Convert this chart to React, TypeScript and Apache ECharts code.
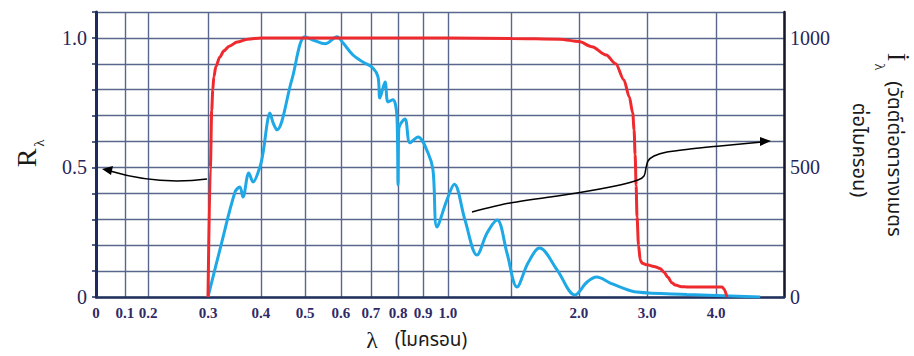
import React, { useEffect, useRef } from "react";
import * as echarts from "echarts";

// Vertical grid lines: wavelength (µm) and where each sits along the axis (0 = left, 1 = right).
// The wavelength scale is stretched in the visible band and compressed in the infrared.
const gridWavelengths = [0, 0.1, 0.2, 0.3, 0.4, 0.5, 0.6, 0.7, 0.8, 0.9, 1.0, 1.5, 2.0, 3.0, 4.0, 5.0];
const gridAxisFractions = [0, 0.042, 0.0756, 0.1628, 0.2398, 0.3038, 0.3561, 0.3997, 0.439, 0.4753, 0.5116, 0.6032, 0.702, 0.8009, 0.9012, 1];
const labelledWavelengths = [0, 0.1, 0.2, 0.3, 0.4, 0.5, 0.6, 0.7, 0.8, 0.9, 1.0, 2.0, 3.0, 4.0];

// Spectral reflectance R(λ) of the surface
const reflWavelength = [
  0.3, 0.3045, 0.307, 0.309, 0.311, 0.315, 0.322, 0.33, 0.34, 0.355, 0.375, 0.4,
  1.0, 1.5, 1.86, 2.0, 2.19, 2.4, 2.54, 2.66, 2.74, 2.79, 2.81, 2.825, 2.84, 2.853,
  2.875, 2.9, 2.93, 3.0, 3.1, 3.19, 3.25, 3.3, 3.36, 3.41, 3.5, 3.58, 4.09, 4.12, 4.16,
];
const reflValue = [
  0, 0.5, 0.72, 0.8, 0.85, 0.89, 0.925, 0.95, 0.968, 0.984, 0.995, 1.0,
  1.0, 0.998, 0.995, 0.986, 0.966, 0.934, 0.9, 0.838, 0.772, 0.71, 0.645, 0.55, 0.43, 0.31,
  0.2, 0.143, 0.13, 0.124, 0.118, 0.11, 0.095, 0.077, 0.055, 0.046, 0.04, 0.039, 0.039, 0.03, 0,
];

// Solar spectral irradiance i(λ), W/m² per µm
const solarWavelength = [
  0.3, 0.325, 0.351, 0.36, 0.366, 0.377, 0.385, 0.398, 0.405, 0.415, 0.42, 0.428, 0.436, 0.47, 0.5,
  0.522, 0.556, 0.589, 0.607, 0.64, 0.673, 0.707, 0.726, 0.733, 0.752, 0.763, 0.781, 0.796, 0.8, 0.803,
  0.828, 0.848, 0.88, 0.92, 0.94, 0.956, 0.996, 1.05, 1.135, 1.23, 1.31, 1.39, 1.468, 1.544, 1.625,
  1.71, 1.84, 1.97, 2.12, 2.26, 2.46, 2.6, 2.85, 3.58, 4.65,
];
const solarValue = [
  0, 203, 405, 425, 386, 479, 444, 502, 560, 680, 710, 670, 645, 838, 1004,
  992, 977, 1004, 980, 934, 907, 884, 849, 768, 830, 753, 761, 695, 432, 650,
  687, 595, 618, 556, 490, 270, 375, 435, 297, 162, 247, 297, 170, 39, 131,
  189, 104, 8, 58, 77, 54, 39, 19, 10, 0,
];

// Map a wavelength onto the stretched axis
function toAxis(w: number): number {
  for (let i = 0; i < gridWavelengths.length - 1; i++) {
    const a = gridWavelengths[i];
    const b = gridWavelengths[i + 1];
    if (w >= a && w <= b) {
      const t = (w - a) / (b - a);
      return gridAxisFractions[i] + t * (gridAxisFractions[i + 1] - gridAxisFractions[i]);
    }
  }
  return 1;
}

function xLabel(v: number): string {
  const k = gridAxisFractions.findIndex((f) => Math.abs(f - v) < 1e-6);
  if (k < 0) return "";
  const w = gridWavelengths[k];
  if (!labelledWavelengths.includes(w)) return "";
  return w === 0 ? "0" : w.toFixed(1);
}

const gridColor = "#5a678c";
const serif = "'Liberation Serif', 'DejaVu Serif', serif";
const thai = "'Noto Sans Thai', 'Noto Serif Thai', Loma, Garuda, 'Noto Sans', 'DejaVu Sans', sans-serif";

export default function App() {
  const ref = useRef<HTMLDivElement>(null);

  useEffect(() => {
    document.body.style.margin = "0";
    const chart = echarts.init(ref.current!, undefined, { renderer: "svg" });

    const reflData = reflWavelength.map((w, i) => [toAxis(w), reflValue[i]]);
    const solarData = solarWavelength.map((w, i) => [toAxis(w), solarValue[i]]);

    chart.setOption({
      animation: false,
      backgroundColor: "#ffffff",
      grid: { left: 96, right: 130, top: 12, bottom: 59 },
      xAxis: {
        type: "value",
        min: 0,
        max: 1,
        axisLine: { show: true, onZero: false, lineStyle: { color: "#22305e", width: 2.5 } },
        axisTick: { show: false, customValues: gridAxisFractions },
        axisLabel: {
          customValues: gridAxisFractions,
          formatter: xLabel,
          color: "#2f2a66",
          fontFamily: serif,
          fontSize: 15,
          fontWeight: "bold",
          margin: 8,
        },
        splitLine: { show: true, lineStyle: { color: gridColor, width: 1.4 } },
      },
      yAxis: [
        {
          type: "value",
          position: "left",
          min: 0,
          max: 1.1,
          interval: 0.1,
          axisLine: { show: true, lineStyle: { color: "#1c2b5e", width: 3 } },
          axisTick: { show: true, length: 4, lineStyle: { color: "#1c2b5e", width: 1.5 } },
          axisLabel: {
            formatter: (v: number) =>
              Math.abs(v - 1) < 1e-6 ? "1.0" : Math.abs(v - 0.5) < 1e-6 ? "0.5" : Math.abs(v) < 1e-6 ? "0" : "",
            color: "#26265a",
            fontFamily: serif,
            fontSize: 20,
            margin: 9,
          },
          splitLine: { show: true, lineStyle: { color: gridColor, width: 1.4 } },
        },
        {
          type: "value",
          position: "right",
          min: 0,
          max: 1100,
          interval: 100,
          axisLine: { show: true, lineStyle: { color: "#17172c", width: 2.5 } },
          axisTick: { show: false },
          axisLabel: {
            formatter: (v: number) => (v === 0 || v === 500 || v === 1000 ? String(v) : ""),
            color: "#26265a",
            fontFamily: serif,
            fontSize: 20,
            margin: 6,
          },
          splitLine: { show: false },
        },
      ],
      series: [
        {
          name: "i",
          type: "line",
          yAxisIndex: 1,
          data: solarData,
          showSymbol: false,
          smooth: 0.35,
          lineStyle: { color: "#1ea8e6", width: 3 },
          z: 3,
        },
        {
          name: "R",
          type: "line",
          yAxisIndex: 0,
          data: reflData,
          showSymbol: false,
          smooth: 0.3,
          smoothMonotone: "x",
          lineStyle: { color: "#ee2a2e", width: 3 },
          z: 4,
        },
      ],
      graphic: [
        // left axis title R_λ
        {
          type: "text", x: 26, y: 158, rotation: Math.PI / 2,
          style: { text: "R", fontFamily: serif, fontSize: 28, fill: "#1a1a1a", align: "center", verticalAlign: "middle" },
        },
        {
          type: "text", x: 39, y: 143, rotation: Math.PI / 2,
          style: { text: "λ", fontFamily: serif, fontSize: 15, fill: "#1a1a1a", align: "center", verticalAlign: "middle" },
        },
        // bottom title
        {
          type: "text", x: 372, y: 340,
          style: { text: "λ", fontFamily: serif, fontSize: 24, fill: "#1a1a1a", align: "center", verticalAlign: "middle" },
        },
        {
          type: "text", x: 431, y: 340,
          style: { text: "(ไมครอน)", fontFamily: thai, fontSize: 19, fill: "#1a1a1a", align: "center", verticalAlign: "middle" },
        },
        // right axis title
        {
          type: "text", x: 896, y: 57, rotation: -Math.PI / 2,
          style: { text: "İ", fontFamily: serif, fontSize: 26, fill: "#1a1a1a", align: "center", verticalAlign: "middle" },
        },
        {
          type: "text", x: 879, y: 67, rotation: -Math.PI / 2,
          style: { text: "λ", fontFamily: serif, fontSize: 14, fill: "#1a1a1a", align: "center", verticalAlign: "middle" },
        },
        {
          type: "text", x: 894, y: 159, rotation: -Math.PI / 2,
          style: { text: "(วัตต์ต่อตารางเมตร", fontFamily: thai, fontSize: 20, fill: "#1a1a1a", align: "center", verticalAlign: "middle" },
        },
        {
          type: "text", x: 859, y: 150, rotation: -Math.PI / 2,
          style: { text: "ต่อไมครอน)", fontFamily: thai, fontSize: 20, fill: "#1a1a1a", align: "center", verticalAlign: "middle" },
        },
        // arrow from the reflectance curve to the left axis
        {
          type: "bezierCurve",
          shape: { x1: 207, y1: 179, cpx1: 175, cpy1: 183, cpx2: 140, cpy2: 180, x2: 110, y2: 171 },
          style: { stroke: "#000", lineWidth: 1.5, fill: null },
          z: 10,
        },
        {
          type: "polygon",
          shape: { points: [[102, 169], [113, 166], [111, 175]] },
          style: { fill: "#000" },
          z: 10,
        },
        // arrow from the irradiance curve to the right axis
        {
          type: "polyline",
          shape: {
            points: [[472, 212], [510, 203], [577, 193], [620, 185], [638, 180], [644, 176], [646, 168], [648, 161], [654, 156], [667, 152], [690, 149], [720, 146], [762, 142]],
            smooth: 0.3,
          },
          style: { stroke: "#000", lineWidth: 1.5, fill: null },
          z: 10,
        },
        {
          type: "polygon",
          shape: { points: [[771, 141], [760, 137], [760, 146]] },
          style: { fill: "#000" },
          z: 10,
        },
      ],
    });

    return () => chart.dispose();
  }, []);

  return <div ref={ref} style={{ position: "absolute", left: 0, top: 0, width: 914, height: 356 }} />;
}
